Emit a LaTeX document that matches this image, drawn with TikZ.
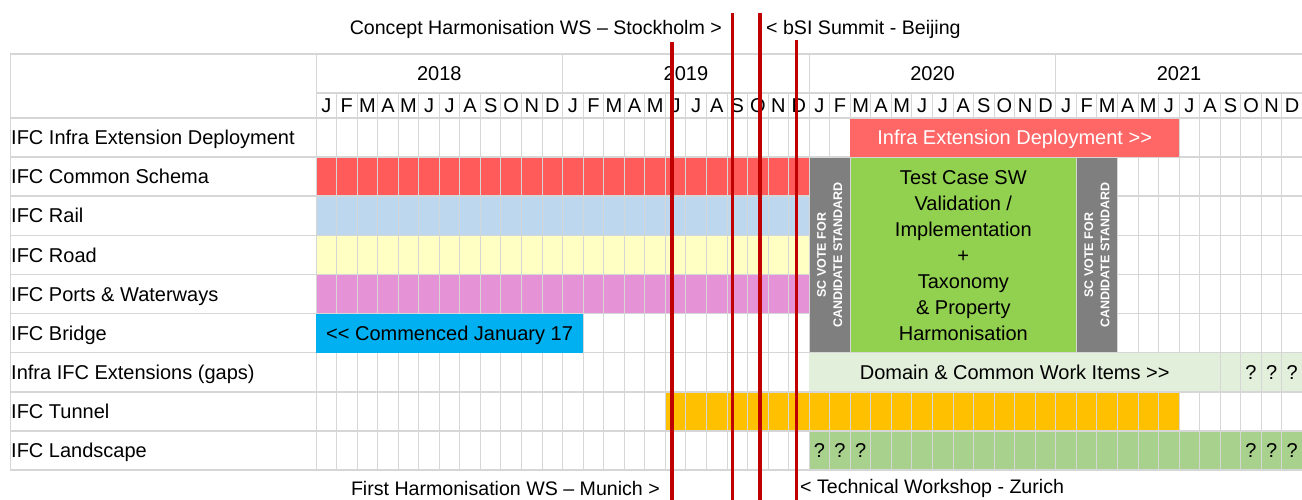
\documentclass[tikz,border=0pt]{standalone}
\usepackage{fontspec}
\setmainfont{Liberation Sans}
\definecolor{gridc}{HTML}{D6D6D6}
\definecolor{csred}{HTML}{FF5B5B}
\definecolor{idred}{HTML}{FF6666}
\definecolor{railc}{HTML}{BDD7EE}
\definecolor{roadc}{HTML}{FFFFC4}
\definecolor{portc}{HTML}{E593D6}
\definecolor{bridgec}{HTML}{00B0F0}
\definecolor{votec}{HTML}{7F7F7F}
\definecolor{testc}{HTML}{92D050}
\definecolor{domc}{HTML}{E2EFDA}
\definecolor{tunc}{HTML}{FFC000}
\definecolor{landc}{HTML}{A9D18E}
\definecolor{markred}{HTML}{C00000}
\begin{document}
\begin{tikzpicture}[x=1pt,y=-1pt,
  lbl/.style={inner sep=0pt, font=\fontsize{20}{24}\selectfont, text height=14.3pt, text depth=0pt},
  ann/.style={inner sep=0pt, font=\fontsize{19.6}{24}\selectfont, text height=14pt, text depth=0pt},
  hline/.style={draw=gridc, line width=1.6pt},
  vline/.style={draw=gridc, line width=1pt},
  vote/.style={inner sep=0pt, rotate=90, align=center, text=white, font=\bfseries\fontsize{12.5}{16.3}\selectfont},
  marker/.style={draw=markred, line width=3.6pt}]
\useasboundingbox (0,0) rectangle (1302,500);
\def\MW{20.55}
% cell-filled bars
\fill[csred] (316,157.1) rectangle ({316+24*\MW},196.2);
\fill[railc] (316,196.2) rectangle ({316+24*\MW},235.3);
\fill[roadc] (316,235.3) rectangle ({316+24*\MW},274.4);
\fill[portc] (316,274.4) rectangle ({316+24*\MW},313.5);
\fill[domc] ({316+24*\MW},352.6) rectangle (1302,391.7);
\fill[tunc] ({316+17*\MW},391.7) rectangle ({316+42*\MW},430.8);
\fill[landc] ({316+24*\MW},430.8) rectangle (1302,469.9);
% grid
\draw[hline] (10,54) -- (1302,54);
\draw[hline] (316,93) -- (1302,93);
\foreach \yy in {118,157.1,196.2,235.3,274.4,313.5,352.6,391.7,430.8,469.9}
  \draw[hline] (10,\yy) -- (1302,\yy);
\draw[vline] (10,54) -- (10,469.9);
\foreach \i in {0,12,24,36}
  \draw[vline] ({316+\i*\MW},54) -- ({316+\i*\MW},469.9);
\foreach \i in {1,...,47}
  \draw[vline] ({316+\i*\MW},93) -- ({316+\i*\MW},469.9);
% header
\foreach \yr [count=\k from 0] in {2018,2019,2020,2021} {
  \node[lbl] (y\yr) at ({316+(\k*12+6)*\MW},73.5) {\yr};
  \foreach \m [count=\j from 0] in {J,F,M,A,M,J,J,A,S,O,N,D}
    \node[lbl] (m\yr-\j) at ({316+(\k*12+\j+0.5)*\MW},105.5) {\m};
}
% row labels
\node[lbl, anchor=west] (l1) at (11,137.55) {IFC Infra Extension Deployment};
\node[lbl, anchor=west] (l2) at (11,176.65) {IFC Common Schema};
\node[lbl, anchor=west] (l3) at (11,215.75) {IFC Rail};
\node[lbl, anchor=west] (l4) at (11,254.85) {IFC Road};
\node[lbl, anchor=west] (l5) at (11,293.95) {IFC Ports \& Waterways};
\node[lbl, anchor=west] (l6) at (11,333.05) {IFC Bridge};
\node[lbl, anchor=west] (l7) at (11,372.15) {Infra IFC Extensions (gaps)};
\node[lbl, anchor=west] (l8) at (11,411.25) {IFC Tunnel};
\node[lbl, anchor=west] (l9) at (11,450.35) {IFC Landscape};
% merged bars
\fill[idred] ({316+26*\MW},118.8) rectangle ({316+42*\MW},157.1);
\node[lbl, text=white] (ide) at ({316+34*\MW},137.55) {Infra Extension Deployment >{}>};
\fill[bridgec] (316,313.5) rectangle ({316+13*\MW},352.6);
\node[lbl] (brg) at ({316+6.5*\MW},333.05) {<{}< Commenced January 17};
\fill[domc] ({316+24*\MW},353.4) rectangle ({316+44*\MW},390.9);
\node[lbl] (dom) at ({316+34*\MW},372.15) {Domain \& Common Work Items >{}>};
\foreach \i in {45,46,47}
  \node[lbl] (dq\i) at ({316+(\i+0.5)*\MW},372.15) {?};
\foreach \i in {24,25,26,45,46,47}
  \node[lbl] (lq\i) at ({316+(\i+0.5)*\MW},450.35) {?};
\filldraw[fill=votec, draw=gridc, line width=0.8pt] ({316+24*\MW},157.6) rectangle ({316+26*\MW},352.6);
\filldraw[fill=testc, draw=gridc, line width=0.8pt] ({316+26*\MW},157.6) rectangle ({316+37*\MW},352.6);
\filldraw[fill=votec, draw=gridc, line width=0.8pt] ({316+37*\MW},157.6) rectangle ({316+39*\MW},352.6);
\node[vote] (v1) at ({316+25*\MW},255.3) {SC VOTE FOR\\CANDIDATE STANDARD};
\node[vote] (v2) at ({316+38*\MW},255.3) {SC VOTE FOR\\CANDIDATE STANDARD};
\node[inner sep=0pt, align=center, font=\fontsize{20}{26}\selectfont] (tc) at ({316+31.5*\MW},255.3)
  {Test Case SW\\Validation /\\Implementation\\+\\Taxonomy\\\& Property\\Harmonisation};
% annotations
\node[ann, anchor=east] (a1) at (722,28) {Concept Harmonisation WS – Stockholm >};
\node[ann, anchor=west] (a2) at (766,28) {< bSI Summit - Beijing};
\node[ann, anchor=east] (a3) at (660,488) {First Harmonisation WS – Munich >};
\node[ann, anchor=west] (a4) at (800,486) {< Technical Workshop - Zurich};
% red markers
\coordinate (r1t) at (672,42);  \coordinate (r1b) at (672,500);
\coordinate (r2t) at (732.5,13); \coordinate (r2b) at (732.5,500);
\coordinate (r3t) at (760,13);  \coordinate (r3b) at (760,500);
\coordinate (r4t) at (796.5,40); \coordinate (r4b) at (796.5,500);
\draw[marker] (r1t) -- (r1b);
\draw[marker] (r2t) -- (r2b);
\draw[marker] (r3t) -- (r3b);
\draw[marker] (r4t) -- (r4b);
\end{tikzpicture}
\end{document}
